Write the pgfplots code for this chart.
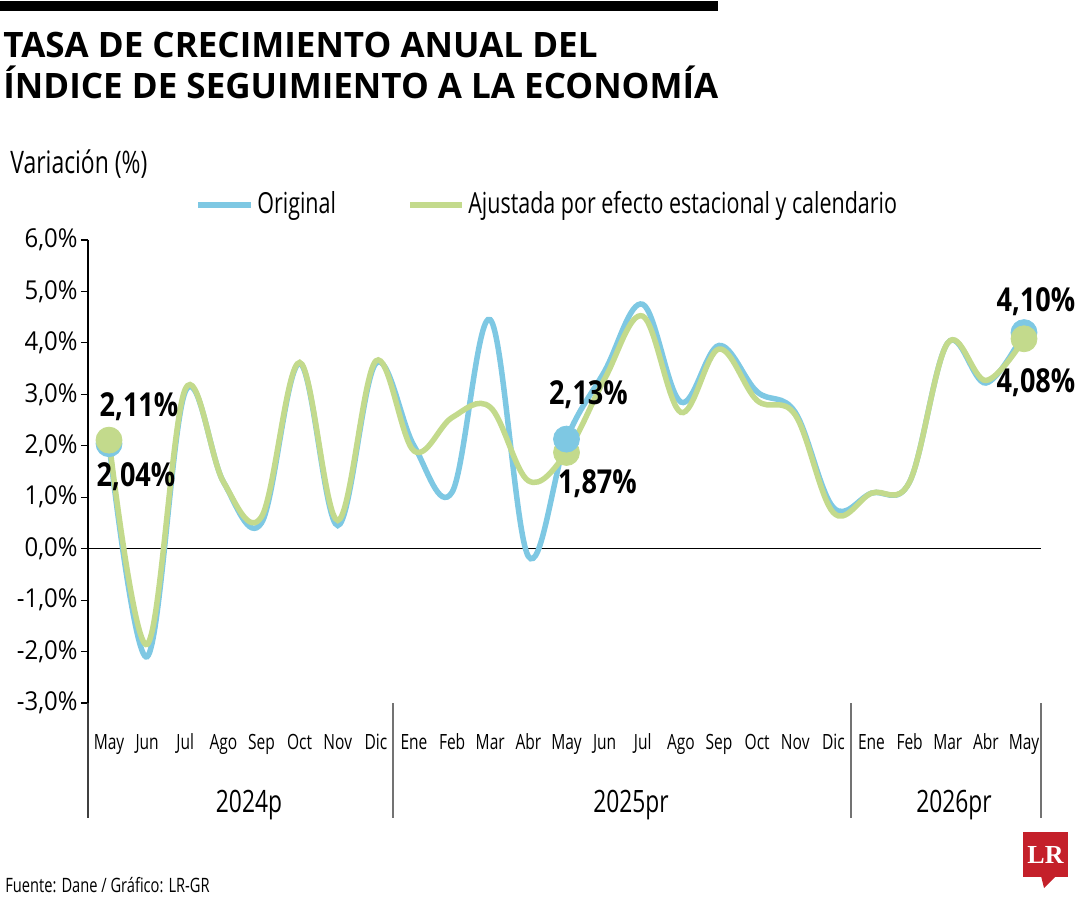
\documentclass[border=0pt]{standalone}
\usepackage{pgfplots}
\pgfplotsset{compat=1.18}
\usepackage{fontspec}
\setmainfont{Open Sans}
\newfontfamily\cond[FakeStretch=0.74]{Open Sans}
\newfontfamily\condb[FakeStretch=0.82]{Open Sans}
\newfontfamily\tickf[FakeStretch=0.92]{Open Sans}
\newfontfamily\titlef{Open Sans}
\newfontfamily\logof{Liberation Serif}
\definecolor{cblue}{HTML}{7EC8E3}
\definecolor{cgreen}{HTML}{C3DA8C}
\definecolor{lrred}{HTML}{C4202A}
\pgfplotstableread{
x orig adj
0 2.04 2.11
1 -2.10 -1.86
2 3.05 3.10
3 1.30 1.30
4 0.50 0.62
5 3.60 3.62
6 0.45 0.55
7 3.60 3.65
8 2.00 1.90
9 1.10 2.55
10 4.45 2.75
11 -0.15 1.32
12 2.13 1.87
13 3.45 3.30
14 4.75 4.52
15 2.85 2.65
16 3.95 3.88
17 3.05 2.88
18 2.65 2.60
19 0.80 0.70
20 1.08 1.08
21 1.30 1.30
22 4.00 4.00
23 3.22 3.27
24 4.20 4.08
}\datatable
\begin{document}
\begin{tikzpicture}[x=1pt,y=1pt]
\useasboundingbox (0,0) rectangle (540,450);
% top bar
\fill[black] (0,444.5) rectangle (359,449.5);
% title
\node[anchor=base west,inner sep=0pt,font=\titlef\bfseries\fontsize{17.5}{19}\selectfont] at (1.5,421) {TASA DE CRECIMIENTO ANUAL DEL};
\node[anchor=base west,inner sep=0pt,font=\titlef\bfseries\fontsize{17.5}{19}\selectfont] at (1.5,400.5) {ÍNDICE DE SEGUIMIENTO A LA ECONOMÍA};
% axis title
\node[anchor=base west,inner sep=0pt,font=\cond\fontsize{15.5}{17}\selectfont] at (5,363) {Variación (\%)};
% legend
\draw[cblue,line width=2.75pt] (99,347.5) -- (125.5,347.5);
\node[anchor=base west,inner sep=0pt,font=\cond\fontsize{14.5}{16}\selectfont] at (128.5,343) {Original};
\draw[cgreen,line width=2.75pt] (205,347.5) -- (231,347.5);
\node[anchor=base west,inner sep=0pt,font=\cond\fontsize{14.5}{16}\selectfont] at (234,343) {Ajustada por efecto estacional y calendario};
\begin{axis}[
  at={(44pt,98.5pt)}, anchor=south west,
  width=476.5pt, height=231.5pt, scale only axis,
  xmin=-0.551, xmax=24.446,
  ymin=-3, ymax=6,
  axis x line=none,
  axis y line=left,
  y axis line style={-, line width=0.6pt, black},
  ytick={-3,-2,-1,0,1,2,3,4,5,6},
  yticklabels={{-3,0\%},{-2,0\%},{-1,0\%},{0,0\%},{1,0\%},{2,0\%},{3,0\%},{4,0\%},{5,0\%},{6,0\%}},
  yticklabel style={font=\tickf\fontsize{13}{14}\selectfont, inner sep=0pt, xshift=-1.5pt},
  ytick style={line width=0.6pt, black},
  major tick length=3.5pt,
  tick align=outside,
  clip=false,
]
\draw[black, line width=0.6pt] (axis cs:-0.551,0) -- (axis cs:24.446,0);
\addplot[cblue, line width=2.75pt, smooth, tension=0.6] table[x=x,y=orig] {\datatable};
\addplot[cgreen, line width=2.75pt, smooth, tension=0.6] table[x=x,y=adj] {\datatable};
\addplot[only marks, mark=*, mark size=6.5pt, cblue] coordinates {(0,2.04) (24,4.20)};
\addplot[only marks, mark=*, mark size=6.5pt, cgreen] coordinates {(0,2.11) (12,1.87) (24,4.08)};
\addplot[only marks, mark=*, mark size=6.5pt, cblue] coordinates {(12,2.13)};
\end{axis}
% data labels
\begin{scope}[every node/.style={inner sep=0pt, anchor=base, font=\condb\bfseries\fontsize{16.5}{18}\selectfont}]
\node at (69.5,241.5) {2,11\%};
\node at (68,206.5) {2,04\%};
\node at (294.25,247.5) {2,13\%};
\node at (298.75,203.5) {1,87\%};
\node at (518,294) {4,10\%};
\node at (518,253.5) {4,08\%};
\end{scope}
% bottom axis lines
\draw[black!75, line width=0.6pt] (44,98.5) -- (44,41);
\draw[black!55, line width=0.75pt] (196.5,98.5) -- (196.5,41);
\draw[black!55, line width=0.75pt] (425.5,98.5) -- (425.5,41);
\draw[black!55, line width=0.75pt] (520.5,98.5) -- (520.5,41);
% month labels
\foreach \m [count=\i from 0] in {May,Jun,Jul,Ago,Sep,Oct,Nov,Dic,Ene,Feb,Mar,Abr,May,Jun,Jul,Ago,Sep,Oct,Nov,Dic,Ene,Feb,Mar,Abr,May}
  \node[anchor=base, inner sep=0pt, font=\cond\fontsize{10.5}{12}\selectfont] at ({54.5+19.0625*\i},75.5) {\m};
% years
\node[anchor=base, inner sep=0pt, font=\cond\fontsize{15.4}{17}\selectfont] at (124.5,44) {2024p};
\node[anchor=base, inner sep=0pt, font=\cond\fontsize{15.4}{17}\selectfont] at (315.5,44) {2025pr};
\node[anchor=base, inner sep=0pt, font=\cond\fontsize{15.4}{17}\selectfont] at (477,44) {2026pr};
% footer
\node[anchor=base west, inner sep=0pt, font=\cond\fontsize{9.9}{12}\selectfont] at (2.5,4) {Fuente: Dane / Gráfico: LR-GR};
% logo
\fill[lrred] (511.5,11.5) rectangle (534,34);
\fill[lrred] (520.5,12) -- (528,12) -- (522,6) -- cycle;
\node[inner sep=0pt, text=white, font=\logof\bfseries\fontsize{13}{14}\selectfont] at (522.75,22.5) {LR};
\end{tikzpicture}
\end{document}
